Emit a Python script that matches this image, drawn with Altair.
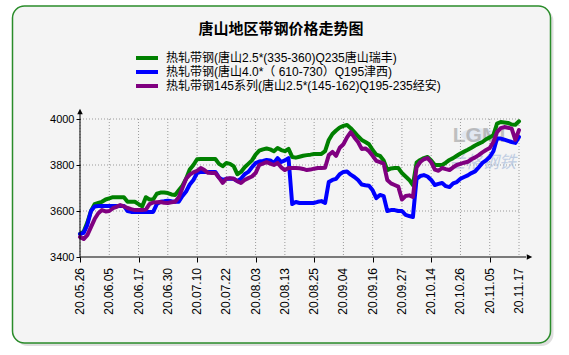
import altair as alt
import pandas as pd

series_names = [
    "热轧带钢(唐山2.5*(335-360)Q235唐山瑞丰)",
    "热轧带钢(唐山4.0*（ 610-730）Q195津西)",
    "热轧带钢145系列(唐山2.5*(145-162)Q195-235经安)",
]
series_colors = ["#008000", "#0000ff", "#800080"]

tick_labels = ["20.05.26", "20.06.05", "20.06.17", "20.06.30", "20.07.10", "20.07.22",
               "20.08.03", "20.08.13", "20.08.25", "20.09.04", "20.09.16", "20.09.27",
               "20.10.14", "20.10.26", "20.11.05", "20.11.17"]
y_ticks = [3400, 3600, 3800, 4000]

green = [3500, 3510, 3550, 3600, 3630, 3635, 3640, 3650, 3655, 3660,
         3660, 3660, 3660, 3640, 3640, 3640, 3630, 3620, 3660, 3650,
         3650, 3675, 3680, 3680, 3678, 3672, 3670, 3690, 3710, 3740,
         3780, 3800, 3825, 3826, 3826, 3826, 3826, 3826, 3805, 3795,
         3809, 3805, 3795, 3760, 3770, 3790, 3805, 3820, 3845, 3862,
         3868, 3872, 3868, 3860, 3874, 3865, 3860, 3870, 3835, 3832,
         3836, 3840, 3843, 3845, 3848, 3848, 3848, 3860, 3909, 3935,
         3950, 3963, 3970, 3974, 3960, 3943, 3925, 3909, 3900, 3890,
         3865, 3845, 3840, 3820, 3778, 3785, 3787, 3787, 3765, 3750,
         3735, 3713, 3810, 3822, 3830, 3835, 3820, 3800, 3800, 3800,
         3810, 3822, 3830, 3840, 3850, 3858, 3866, 3875, 3885, 3893,
         3900, 3912, 3920, 3930, 3980, 3987, 3985, 3983, 3976, 3975,
         3990]
blue = [3500, 3505, 3540, 3600, 3620, 3622, 3622, 3622, 3622, 3622,
        3622, 3622, 3622, 3600, 3596, 3596, 3596, 3596, 3596, 3596,
        3596, 3630, 3640, 3642, 3645, 3642, 3640, 3640, 3665, 3685,
        3715, 3735, 3765, 3770, 3770, 3770, 3770, 3770, 3745, 3735,
        3740, 3740, 3740, 3730, 3740, 3760, 3770, 3790, 3808, 3815,
        3818, 3822, 3820, 3809, 3830, 3813, 3820, 3830, 3630, 3639,
        3635, 3635, 3635, 3635, 3635, 3640, 3643, 3635, 3726, 3735,
        3740, 3760, 3770, 3772, 3758, 3748, 3735, 3715, 3712, 3710,
        3690, 3656, 3670, 3665, 3600, 3604, 3604, 3600, 3600, 3583,
        3578, 3574, 3740, 3752, 3756, 3750, 3735, 3713, 3718, 3722,
        3708, 3704, 3720, 3726, 3740, 3748, 3755, 3765, 3772, 3790,
        3809, 3820, 3835, 3860, 3915, 3915, 3910, 3905, 3900, 3896,
        3922]
purple = [3487, 3478, 3495, 3530, 3565, 3590, 3604, 3598, 3600, 3612,
          3618, 3626, 3620, 3613, 3608, 3604, 3604, 3604, 3606, 3630,
          3637, 3638, 3639, 3636, 3635, 3638, 3640, 3660, 3700, 3740,
          3758, 3768, 3775, 3787, 3778, 3766, 3765, 3765, 3745, 3722,
          3740, 3743, 3740, 3730, 3722, 3735, 3743, 3750, 3765, 3800,
          3806, 3812, 3806, 3800, 3809, 3790, 3778, 3787, 3787, 3787,
          3786, 3783, 3778, 3780, 3784, 3787, 3787, 3788, 3843, 3857,
          3840, 3875, 3890, 3920, 3943, 3920, 3900, 3870, 3872, 3860,
          3840, 3818, 3812, 3806, 3735, 3720, 3713, 3706, 3650, 3665,
          3668, 3661, 3790, 3813, 3825, 3830, 3812, 3780, 3775, 3787,
          3782, 3778, 3790, 3800, 3805, 3810, 3814, 3825, 3833, 3843,
          3855, 3865, 3874, 3900, 3943, 3960, 3965, 3962, 3958, 3909,
          3952]

W, H = 439, 138
x_ticks = list(range(0, 8 * len(tick_labels), 8))

rows = []
for name, vals in zip(series_names, [green, blue, purple]):
    for i, v in enumerate(vals):
        rows.append({"i": i, "price": v, "series": name})
df = pd.DataFrame(rows)
tick_df = pd.DataFrame({"t": x_ticks, "label": tick_labels})

xs = alt.Scale(domain=[0, 120], nice=False, zero=False)
ys = alt.Scale(domain=[3400, 4000], nice=False, zero=False)
one = pd.DataFrame({"a": [0]})

shadow = alt.Chart(one).mark_rect(cornerRadius=12, fill="#c4c4c4", opacity=0.55).encode(
    x=alt.value(-64.5), x2=alt.value(473.5), y=alt.value(-110), y2=alt.value(227))
frame = alt.Chart(one).mark_rect(cornerRadius=12, fill="#f4f4f4", stroke="#2a8c2a",
                                 strokeWidth=1.5).encode(
    x=alt.value(-67.5), x2=alt.value(470.5), y=alt.value(-113), y2=alt.value(224))

vgrid = alt.Chart(tick_df).mark_rule(
    color="#9a9a9a", strokeDash=[1, 2], strokeWidth=1).encode(
    x=alt.X("t:Q", scale=xs), y=alt.value(0), y2=alt.value(H))
hgrid = alt.Chart(pd.DataFrame({"t": y_ticks[1:]})).mark_rule(
    color="#9a9a9a", strokeDash=[1, 2], strokeWidth=1).encode(
    y=alt.Y("t:Q", scale=ys), x=alt.value(0), x2=alt.value(W))

wm_ellipse = alt.Chart(one).mark_point(
    shape="M-1,0A1,0.38,0,1,0,1,0A1,0.38,0,1,0,-1,0Z", size=1300,
    filled=True, color="#c9d6ea", opacity=0.45).encode(
    x=alt.value(399), y=alt.value(16))
wm1 = alt.Chart(one).mark_text(text="LGMI", font="Liberation Sans", fontSize=21,
                               fontWeight="bold", color="#9c9c9c", opacity=0.6).encode(
    x=alt.value(399), y=alt.value(17))
wm2 = alt.Chart(one).mark_text(text="兰格钢铁", font="Noto Sans CJK SC", fontSize=17,
                               fontStyle="italic", color="#a9bddb", opacity=0.7).encode(
    x=alt.value(402), y=alt.value(44))

lines = alt.Chart(df).mark_line(strokeWidth=4, strokeJoin="round", strokeCap="round").encode(
    x=alt.X("i:Q", scale=xs,
            axis=alt.Axis(values=x_ticks, labels=False, tickSize=5, tickColor="black",
                          domain=False, grid=False, title=None, zindex=2)),
    y=alt.Y("price:Q", scale=ys,
            axis=alt.Axis(values=y_ticks, format="d", tickSize=4, tickColor="black",
                          labelPadding=2, domain=False, grid=False, title=None,
                          labelFont="Liberation Sans", labelFontSize=11,
                          labelColor="black", zindex=2, labelOverlap=False,
                          labelFlush=False)),
    color=alt.Color("series:N",
                    scale=alt.Scale(domain=series_names, range=series_colors),
                    sort=series_names,
                    legend=alt.Legend(orient="none", legendX=54, legendY=-68, title=None,
                                      symbolType="stroke", symbolSize=484,
                                      symbolStrokeWidth=4, clipHeight=14, rowPadding=0,
                                      labelFont="Liberation Sans, Noto Sans CJK SC",
                                      labelFontSize=12, labelColor="black", labelOffset=6,
                                      padding=0, labelLimit=400, zindex=2)),
    order=alt.Order("i:Q"),
)

xlabels = alt.Chart(tick_df).mark_text(angle=270, align="right", baseline="middle",
                                       font="Liberation Sans", fontSize=12,
                                       color="black").encode(
    x=alt.X("t:Q", scale=xs), y=alt.value(H + 11), text="label:N")

yaxis_line = alt.Chart(one).mark_rule(color="black", strokeWidth=1).encode(
    x=alt.value(0), y=alt.value(H), y2=alt.value(-6))
xaxis_line = alt.Chart(one).mark_rule(color="black", strokeWidth=1).encode(
    x=alt.value(0), x2=alt.value(446), y=alt.value(H))
up_arrow = alt.Chart(one).mark_point(shape="M-1,1L0,-1L1,1Z", size=30, filled=True,
                                     color="black", opacity=1).encode(
    x=alt.value(0), y=alt.value(-7.5))
right_arrow = alt.Chart(one).mark_point(shape="M-1,-1L1,0L-1,1Z", size=30, filled=True,
                                        color="black", opacity=1).encode(
    x=alt.value(449.5), y=alt.value(H))

title = alt.Chart(one).mark_text(text="唐山地区带钢价格走势图", font="Noto Sans CJK SC",
                                 fontSize=15, fontWeight="bold", color="black").encode(
    x=alt.value(201), y=alt.value(-90))

chart = alt.layer(shadow, frame, vgrid, hgrid, wm_ellipse, wm1, wm2, lines, xlabels,
                  yaxis_line, xaxis_line, up_arrow, right_arrow, title).properties(
    width=W, height=H, background="white",
    padding={"left": 80, "top": 119, "right": 50, "bottom": 98},
    autosize=alt.AutoSizeParams(type="none"),
).configure_view(strokeWidth=0)

chart.save("out.html", embed_options={"renderer": "svg", "actions": False})
